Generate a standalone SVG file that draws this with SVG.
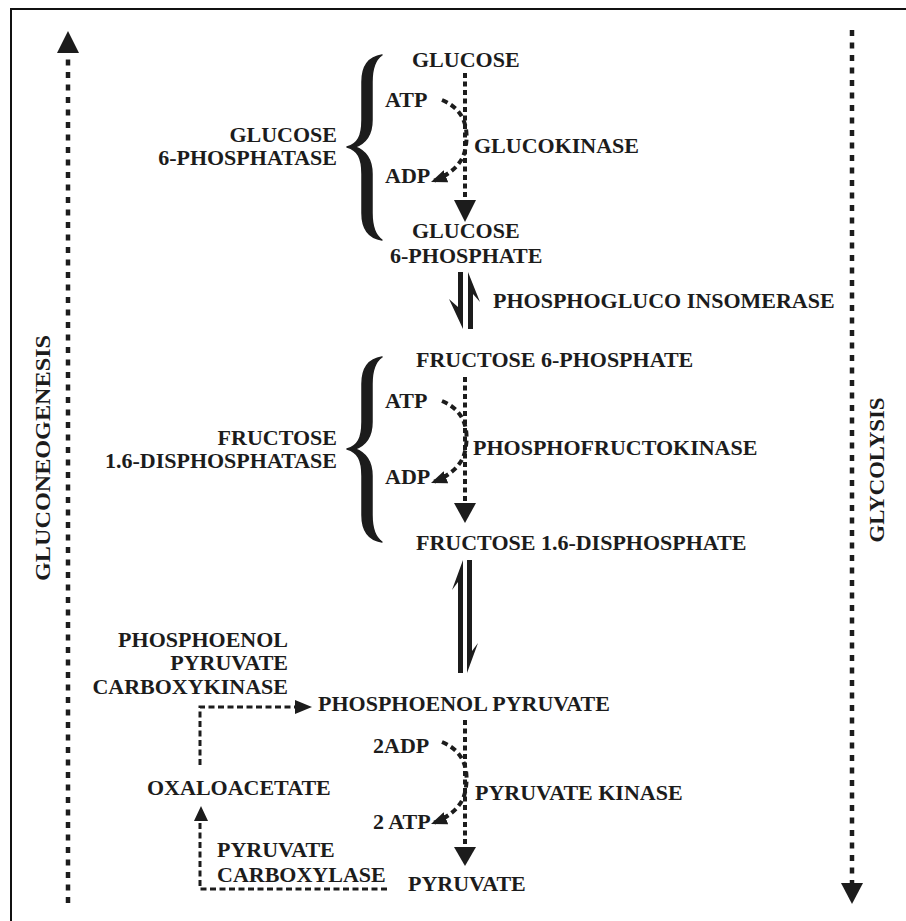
<svg xmlns="http://www.w3.org/2000/svg" width="906" height="921" viewBox="0 0 906 921">
  <style>
    .t { font-family: "Liberation Serif", "Times New Roman", serif; font-weight: bold; font-size: 22px; fill: #1c1c1c; }
    .end { text-anchor: end; }
    .mid { text-anchor: middle; }
    .dash { fill: none; stroke: #1c1c1c; stroke-width: 4; stroke-dasharray: 5 3.5; }
    .side { fill: none; stroke: #1c1c1c; stroke-width: 4.5; stroke-dasharray: 6 6.5; }
    .curve { fill: none; stroke: #1c1c1c; stroke-width: 4; stroke-dasharray: 6 4; }
    .hdash { fill: none; stroke: #1c1c1c; stroke-width: 3; stroke-dasharray: 6 3.5; }
    .head { fill: #1c1c1c; }
    .brace { fill: #1c1c1c; stroke: #1c1c1c; stroke-width: 1.5; stroke-linejoin: round; }
  </style>
  <defs>
    <marker id="curveHead" markerUnits="userSpaceOnUse" viewBox="0 0 16 13" markerWidth="16" markerHeight="13" refX="16" refY="6.5" orient="auto">
      <path d="M0,0 L16,6.5 L0,13 Z" fill="#1c1c1c"/>
    </marker>
    <!-- curly brace, 185 px tall, cusp at mid height -->
    <path id="brace" d="M382,0 C369,2 362,11 362,27 L362,65 C362,81 358,89 347,92 C358,95 362,103 362,119 L362,158 C362,174 369,183 382,185 C376,181 372,173 372,158 L372,119 C372,105 366,96 355,92 C366,88 372,79 372,65 L372,27 C372,12 376,4 382,0 Z"/>
    <!-- cofactor loop: ATP in, ADP out -->
    <path id="loop" d="M442,100 C466,110 468,130 466,145 C464,163 452,174 431,182"/>
  </defs>

  <!-- frame -->
  <path d="M11,921 L11,9 L906,9" fill="none" stroke="#111" stroke-width="2"/>

  <!-- pathway direction labels -->
  <g id="gluconeogenesis">
    <text class="t mid" transform="translate(50,458) rotate(-90)" textLength="246" lengthAdjust="spacingAndGlyphs" style="font-size:21px">GLUCONEOGENESIS</text>
  </g>
  <g id="glycolysis">
    <text class="t mid" transform="translate(884,470) rotate(-90)" textLength="145" lengthAdjust="spacingAndGlyphs" style="font-size:21px">GLYCOLYSIS</text>
  </g>

  <!-- metabolites -->
  <g id="glucose"><text class="t" x="412" y="67">GLUCOSE</text></g>
  <g id="glucose-6-phosphate">
    <text class="t" x="412" y="238">GLUCOSE</text>
    <text class="t" x="390" y="263">6-PHOSPHATE</text>
  </g>
  <g id="fructose-6-phosphate"><text class="t" x="416" y="367">FRUCTOSE 6-PHOSPHATE</text></g>
  <g id="fructose-16-disphosphate"><text class="t" x="416" y="550">FRUCTOSE 1.6-DISPHOSPHATE</text></g>
  <g id="phosphoenol-pyruvate"><text class="t" x="318" y="711">PHOSPHOENOL PYRUVATE</text></g>
  <g id="pyruvate"><text class="t" x="408" y="891">PYRUVATE</text></g>
  <g id="oxaloacetate"><text class="t" x="147" y="795">OXALOACETATE</text></g>

  <!-- cofactors -->
  <g id="atp-1"><text class="t" x="385" y="107">ATP</text></g>
  <g id="adp-1"><text class="t" x="385" y="183">ADP</text></g>
  <g id="atp-2"><text class="t" x="385" y="408">ATP</text></g>
  <g id="adp-2"><text class="t" x="385" y="484">ADP</text></g>
  <g id="adp-3"><text class="t" x="373" y="753">2ADP</text></g>
  <g id="atp-3"><text class="t" x="373" y="829">2 ATP</text></g>

  <!-- enzymes -->
  <g id="glucokinase"><text class="t" x="474" y="153">GLUCOKINASE</text></g>
  <g id="phosphogluco-insomerase"><text class="t" x="493" y="308">PHOSPHOGLUCO INSOMERASE</text></g>
  <g id="phosphofructokinase"><text class="t" x="473" y="455">PHOSPHOFRUCTOKINASE</text></g>
  <g id="pyruvate-kinase"><text class="t" x="475" y="800">PYRUVATE KINASE</text></g>
  <g id="glucose-6-phosphatase">
    <use href="#brace" class="brace" transform="translate(0,55)"/>
    <text class="t end" x="337" y="142">GLUCOSE</text>
    <text class="t end" x="337" y="165">6-PHOSPHATASE</text>
  </g>
  <g id="fructose-16-disphosphatase">
    <use href="#brace" class="brace" transform="translate(0,357)"/>
    <text class="t end" x="337" y="445">FRUCTOSE</text>
    <text class="t end" x="337" y="468">1.6-DISPHOSPHATASE</text>
  </g>
  <g id="pep-carboxykinase">
    <text class="t end" x="288" y="647">PHOSPHOENOL</text>
    <text class="t end" x="288" y="670">PYRUVATE</text>
    <text class="t end" x="288" y="694">CARBOXYKINASE</text>
  </g>
  <g id="pyruvate-carboxylase">
    <text class="t" x="217" y="857">PYRUVATE</text>
    <text class="t" x="217" y="882">CARBOXYLASE</text>
  </g>

  <g id="connectors">
    <!-- overall directions -->
    <line class="side" x1="68" y1="903" x2="68" y2="52"/>
    <polygon class="head" points="57,53 68,31 79,53"/>
    <line class="side" x1="852" y1="30" x2="852" y2="884"/>
    <polygon class="head" points="841,883 852,904 863,883"/>

    <!-- glucose to glucose 6-phosphate -->
    <line class="dash" x1="465" y1="73" x2="465" y2="201"/>
    <polygon class="head" points="454,200 476,200 465,222"/>
    <use href="#loop" class="curve" marker-end="url(#curveHead)"/>

    <!-- reversible isomerase step -->
    <polygon class="head" points="458,272 463,272 463,329 449,299 458,307"/>
    <polygon class="head" points="468,272 480,302 473,294 473,329 468,329"/>

    <!-- fructose 6-phosphate to fructose 1.6-disphosphate -->
    <line class="dash" x1="465" y1="377" x2="465" y2="504"/>
    <polygon class="head" points="454,503 476,503 465,523"/>
    <use href="#loop" class="curve" marker-end="url(#curveHead)" transform="translate(0,301)"/>

    <!-- reversible steps down to phosphoenol pyruvate -->
    <polygon class="head" points="463,560 463,673 458,673 458,582 452,590"/>
    <polygon class="head" points="467,560 472,560 472,651 478,643 467,673"/>

    <!-- phosphoenol pyruvate to pyruvate -->
    <line class="dash" x1="465" y1="720" x2="465" y2="848"/>
    <polygon class="head" points="454,847 476,847 465,866"/>
    <use href="#loop" class="curve" marker-end="url(#curveHead)" transform="translate(0,642)"/>

    <!-- bypass through oxaloacetate -->
    <polyline class="hdash" points="387,889 200,889 200,821"/>
    <polygon class="head" points="194,821 201,806 208,821"/>
    <polyline class="hdash" points="200,765 200,707 296,707"/>
    <polygon class="head" points="295,700 312,707 295,714"/>
  </g>
</svg>
